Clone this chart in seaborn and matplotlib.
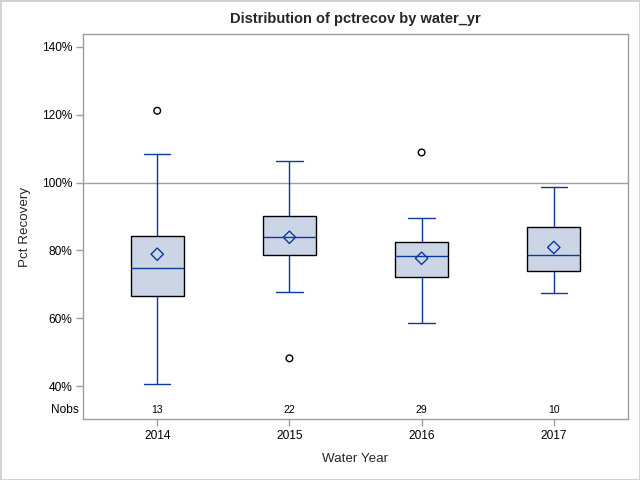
"""
Box plot of percent recovery by water year (SAS-style look).
"""

import matplotlib
matplotlib.use('Agg')
import matplotlib.pyplot as plt
from matplotlib.patches import Rectangle
from matplotlib.ticker import PercentFormatter
import matplotlib.transforms as mtransforms
import seaborn as sns
import pandas as pd

# Summary statistics (percent)
years = ['2014', '2015', '2016', '2017']
nobs = [13, 22, 29, 10]
whisker_low = [40.5, 67.9, 58.5, 67.6]
q1 = [66.5, 78.6, 72.2, 73.9]
median = [74.7, 83.9, 78.3, 78.6]
q3 = [84.3, 90.2, 82.4, 87.0]
whisker_high = [108.4, 106.3, 89.5, 98.7]
mean = [78.9, 83.9, 77.7, 80.9]
outlier_year = ['2014', '2015', '2016']
outlier_value = [121.2, 48.2, 108.9]
y_ticks = [40, 60, 80, 100, 120, 140]

FILL = '#CBD5E6'
LINE = '#0B3A9C'
FRAME = '#9A9EA3'

sns.set_style('white')
plt.rcParams['font.family'] = ['Liberation Sans', 'DejaVu Sans']

# five-number summary per year; quartiles of 5 points land exactly on q1/median/q3
rows = []
for i, yr in enumerate(years):
    for v in (whisker_low[i], q1[i], median[i], q3[i], whisker_high[i]):
        rows.append({'water_yr': yr, 'pctrecov': v})
df = pd.DataFrame(rows)

fig = plt.figure(figsize=(6.4, 4.8), dpi=100)
ax = fig.add_axes([0.130, 0.127, 0.851, 0.802])

# reference line at 100%
ax.axhline(100, color='#A0A0A0', lw=1, zorder=0)

sns.boxplot(
    data=df, x='water_yr', y='pctrecov', order=years,
    whis=(0, 100), width=0.4, saturation=1, color=FILL,
    showfliers=False, ax=ax,
    boxprops={'facecolor': FILL, 'edgecolor': 'black', 'linewidth': 1.0},
    whiskerprops={'color': LINE, 'linewidth': 1.0},
    capprops={'color': LINE, 'linewidth': 1.0},
    medianprops={'color': LINE, 'linewidth': 1.0},
)


def hollow(start, edge):
    # stripplot adds one collection per category; make them all open markers
    for coll in ax.collections[start:]:
        coll.set_facecolor('none')
        coll.set_edgecolor(edge)
        coll.set_zorder(5)


# means as open diamonds
n0 = len(ax.collections)
sns.stripplot(x=years, y=mean, order=years, jitter=False, marker='D',
              size=6.3, linewidth=1, ax=ax)
hollow(n0, LINE)

# outliers as open circles
n0 = len(ax.collections)
sns.stripplot(x=outlier_year, y=outlier_value, order=years, jitter=False,
              marker='o', size=4.8, linewidth=1, ax=ax)
hollow(n0, 'black')

ax.set_xlim(-0.56, 3.56)
ax.set_ylim(30.3, 143.8)
ax.set_yticks(y_ticks)
ax.yaxis.set_major_formatter(PercentFormatter(xmax=100, decimals=0))

# Nobs row inside the plot area
trans = mtransforms.blended_transform_factory(ax.transData, ax.transAxes)
for i, n in enumerate(nobs):
    ax.text(i, 0.023, str(n), transform=trans, ha='center', va='center',
            fontsize=7.5, color='black')
ax.text(-0.009, 0.023, 'Nobs', transform=ax.transAxes, ha='right',
        va='center', fontsize=8.6, color='black')

for s in ax.spines.values():
    s.set_color(FRAME)
    s.set_linewidth(1)
ax.tick_params(axis='both', which='both', length=5, width=1, color=FRAME,
               labelsize=8.6, labelcolor='black', pad=3, direction='out',
               left=True, bottom=True)

ax.set_xlabel('Water Year', fontsize=9.6, labelpad=8)
ax.set_ylabel('Pct Recovery', fontsize=9.6, labelpad=8)
ax.set_title('Distribution of pctrecov by water_yr', fontsize=10.5,
             fontweight='bold', pad=8)

# thin light border around the whole figure
fig.patches.append(Rectangle((0, 0), 1, 1, transform=fig.transFigure,
                             fill=False, edgecolor='#D0D0D0', lw=2))

fig.savefig('out.png', dpi=100)
plt.close(fig)
